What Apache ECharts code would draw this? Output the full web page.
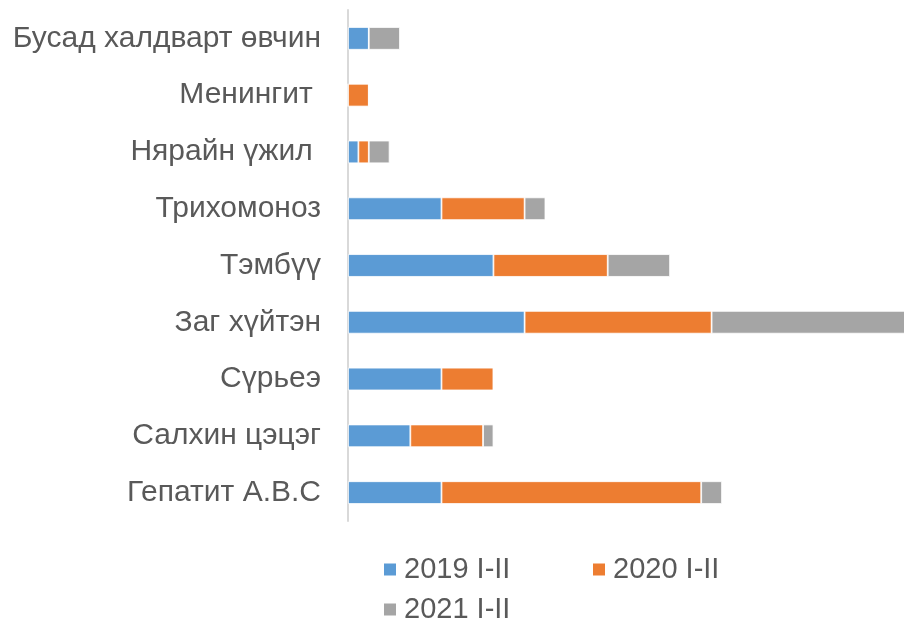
<!DOCTYPE html>
<html>
<head>
<meta charset="utf-8">
<script src="https://cdn.jsdelivr.net/npm/echarts@6/dist/echarts.min.js"></script>
<style>
  html, body { margin: 0; padding: 0; background: #fff; }
  #main { width: 904px; height: 618px; }
</style>
</head>
<body>
<div id="main"></div>
<script>
"use strict";

// categories bottom to top (as drawn)
var categories = [
  "Гепатит А.В.С",
  "Салхин цэцэг",
  "Сүрьеэ",
  "Заг хүйтэн",
  "Тэмбүү",
  "Трихомоноз",
  "Нярайн үжил ",
  "Менингит ",
  "Бусад халдварт өвчин"
];
var seriesNames = ["2019 I-II", "2020 I-II", "2021 I-II"];
var values2019 = [9, 6, 9, 17, 14, 9, 1, 0, 2];
var values2020 = [25, 7, 5, 18, 11, 8, 1, 2, 0];
var values2021 = [2, 1, 0, 19, 6, 2, 2, 0, 3];
var colors = ["#5b9bd5", "#ed7d31", "#a5a5a5"];

var chartDom = document.getElementById("main");
var myChart = echarts.init(chartDom);

function makeSeries(name, data, color) {
  return {
    name: name,
    type: "bar",
    stack: "total",
    data: data,
    barWidth: "40%",
    itemStyle: {
      color: color,
      borderColor: "#ffffff",
      borderWidth: 0.8,
    },
  };
}

function makeLegend(name, left, top) {
  return {
    data: [name],
    left: left,
    top: top,
    itemWidth: 14,
    itemHeight: 14,
    icon: "rect",
    textStyle: {
      fontFamily: "Liberation Sans, Arial, sans-serif",
      fontSize: 29,
      color: "#595959",
      padding: [0, 0, 0, 2],
    },
  };
}

var option = {
  animation: false,
  color: colors,
  legend: [
    makeLegend(seriesNames[0], 377, 550),
    makeLegend(seriesNames[1], 586, 550),
    makeLegend(seriesNames[2], 377, 590),
  ],
  grid: {
    left: 348,
    top: 10,
    width: 561,
    height: 511,
    outerBoundsMode: "none",
  },
  xAxis: {
    type: "value",
    min: 0,
    max: 54,
    show: false,
    splitLine: { show: false },
  },
  yAxis: {
    type: "category",
    data: categories,
    axisTick: { show: false },
    axisLine: {
      show: true,
      lineStyle: { color: "#d9d9d9", width: 2 },
    },
    axisLabel: {
      margin: 27,
      fontFamily: "Liberation Sans, Arial, sans-serif",
      fontSize: 30,
      color: "#595959",
    },
  },
  series: [
    makeSeries(seriesNames[0], values2019, colors[0]),
    makeSeries(seriesNames[1], values2020, colors[1]),
    makeSeries(seriesNames[2], values2021, colors[2]),
  ],
};

option && myChart.setOption(option);
</script>
</body>
</html>
